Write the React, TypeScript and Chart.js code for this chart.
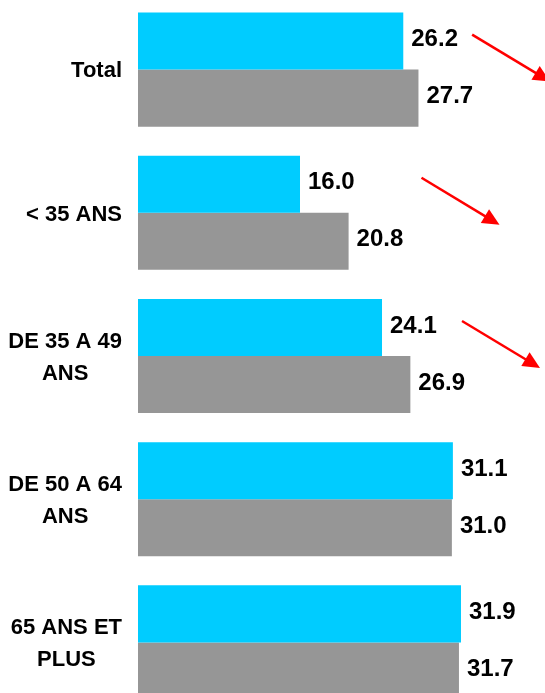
import React, { useEffect, useRef } from "react";
import { Chart, registerables } from "chart.js";

Chart.register(...registerables);

// Age groups (each entry is one wrapped label, one line per string)
const categories: string[][] = [
  ["Total"],
  ["< 35 ANS"],
  ["DE 35 A 49", "ANS"],
  ["DE 50 A 64", "ANS"],
  ["65 ANS ET", "PLUS"],
];
const recentValues = [26.2, 16.0, 24.1, 31.1, 31.9];
const previousValues = [27.7, 20.8, 26.9, 31.0, 31.7];

// Downward trend arrows: which rows get one, and where each starts on the value axis
const trendArrowRows = [0, 1, 2];
const trendArrowStart = [33, 28, 32];

const AXIS_MAX = 40;
const FONT = "'Liberation Sans', Arial, sans-serif";
const CAP = 0.716; // cap height ratio of the font

const overlayPlugin = {
  id: "overlay",
  afterDatasetsDraw(chart: any) {
    const ctx = chart.ctx as CanvasRenderingContext2D;
    const xScale = chart.scales.x;
    const yScale = chart.scales.y;
    ctx.save();

    // value labels to the right of each bar
    const valueSize = 24;
    ctx.font = `bold ${valueSize}px ${FONT}`;
    ctx.fillStyle = "#000000";
    ctx.textAlign = "left";
    ctx.textBaseline = "alphabetic";
    chart.data.datasets.forEach((ds: any, di: number) => {
      const meta = chart.getDatasetMeta(di);
      meta.data.forEach((bar: any, i: number) => {
        const v = ds.data[i] as number;
        const cy = bar.y - 3.5;
        ctx.fillText(v.toFixed(1), bar.x + 8, cy + (valueSize * CAP) / 2);
      });
    });

    // category labels: block right-aligned, lines centred within the block
    const labelSize = 22;
    const lineGap = 32;
    const rightEdge = 122;
    ctx.font = `bold ${labelSize}px ${FONT}`;
    ctx.textAlign = "center";
    categories.forEach((lines, i) => {
      const cy = yScale.getPixelForValue(i);
      const blockW = Math.max(...lines.map((l) => ctx.measureText(l).width));
      const cx = rightEdge - blockW / 2;
      lines.forEach((line, li) => {
        const ly = cy + (li - (lines.length - 1) / 2) * lineGap;
        ctx.fillText(line, cx, ly + (labelSize * CAP) / 2);
      });
    });

    // red trend arrows
    ctx.strokeStyle = "#FF0000";
    ctx.fillStyle = "#FF0000";
    ctx.lineWidth = 2.5;
    trendArrowRows.forEach((row, k) => {
      const x0 = xScale.getPixelForValue(trendArrowStart[k]);
      const y0 = yScale.getPixelForValue(row) - 35;
      const dx = 78;
      const dy = 47;
      const len = Math.hypot(dx, dy);
      const ux = dx / len;
      const uy = dy / len;
      const x1 = x0 + dx;
      const y1 = y0 + dy;
      const headLen = 17;
      const headHalf = 8;
      const bx = x1 - ux * headLen;
      const by = y1 - uy * headLen;
      ctx.beginPath();
      ctx.moveTo(x0, y0);
      ctx.lineTo(bx + ux * 2, by + uy * 2);
      ctx.stroke();
      ctx.beginPath();
      ctx.moveTo(x1, y1);
      ctx.lineTo(bx - uy * headHalf, by + ux * headHalf);
      ctx.lineTo(bx + uy * headHalf, by - ux * headHalf);
      ctx.closePath();
      ctx.fill();
    });

    ctx.restore();
  },
};

export default function App() {
  const canvasRef = useRef<HTMLCanvasElement | null>(null);

  useEffect(() => {
    const canvas = canvasRef.current;
    if (!canvas) return;
    const chart = new Chart(canvas, {
      type: "bar",
      data: {
        labels: categories.map((l) => l.join(" ")),
        datasets: [
          {
            label: "recent",
            data: recentValues,
            backgroundColor: "#00CCFF",
            borderWidth: 0,
            barPercentage: 1,
            categoryPercentage: 0.797,
          },
          {
            label: "previous",
            data: previousValues,
            backgroundColor: "#969696",
            borderWidth: 0,
            barPercentage: 1,
            categoryPercentage: 0.797,
          },
        ],
      },
      options: {
        indexAxis: "y",
        responsive: false,
        animation: false,
        devicePixelRatio: 1,
        layout: { padding: { left: 138, right: 2, top: 0, bottom: 0 } },
        plugins: {
          legend: { display: false },
          tooltip: { enabled: false },
        },
        scales: {
          x: { display: false, min: 0, max: AXIS_MAX, grid: { display: false } },
          y: { display: false, grid: { display: false } },
        },
      },
      plugins: [overlayPlugin],
    });
    return () => chart.destroy();
  }, []);

  return (
    <div
      style={{
        position: "fixed",
        left: 0,
        top: 0,
        width: 545,
        height: 693,
        overflow: "hidden",
        background: "#ffffff",
      }}
    >
      <canvas
        ref={canvasRef}
        width={545}
        height={716}
        style={{ position: "absolute", left: 0, top: -2, width: 545, height: 716 }}
      />
    </div>
  );
}
